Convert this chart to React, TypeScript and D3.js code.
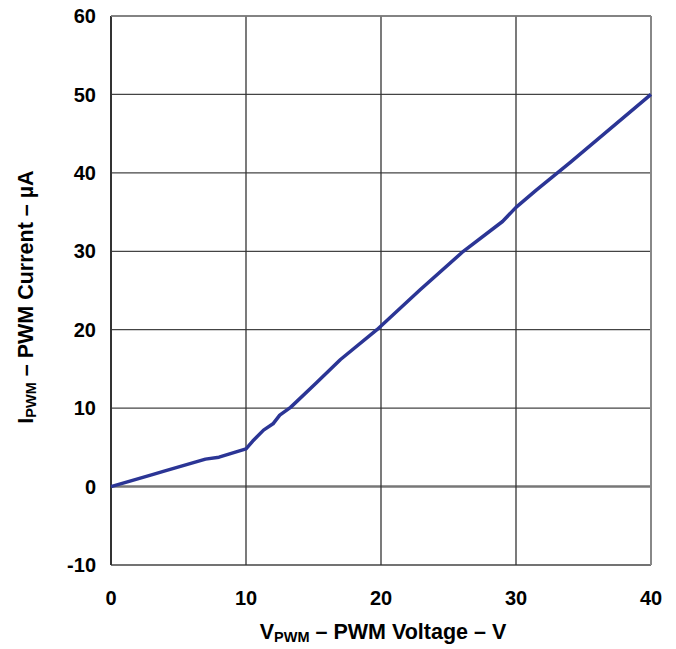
import React from "react";
import * as d3 from "d3";

const voltage = [0, 3, 4, 7, 8, 10, 10.5, 11.3, 12, 12.5, 13.3, 15.2, 17, 19.7, 22.9, 26.1, 29, 30, 31.5, 33, 34, 40];
const current = [0, 1.5, 2, 3.5, 3.75, 4.8, 5.8, 7.2, 8, 9.1, 10.1, 13.2, 16.2, 20, 25.1, 30, 33.8, 35.6, 37.8, 39.9, 41.3, 50];
const xTicks = [0, 10, 20, 30, 40];
const yTicks = [-10, 0, 10, 20, 30, 40, 50, 60];

const W = 676, H = 649;
const left = 111, right = 651, top = 16, bottom = 565;
const font = "'Liberation Sans', Arial, Helvetica, sans-serif";

export default function App() {
  const x = d3.scaleLinear().domain([0, 40]).range([left, right]);
  const y = d3.scaleLinear().domain([-10, 60]).range([bottom, top]);
  const pts = voltage.map((v, i) => [v, current[i]] as [number, number]);
  const line = d3.line<[number, number]>().x(d => x(d[0])).y(d => y(d[1]));

  return (
    <svg width={W} height={H} style={{ position: "absolute", left: 0, top: 0, background: "#fff" }}>
      {yTicks.map(t => (
        <line key={"h" + t} x1={left} x2={right} y1={y(t)} y2={y(t)}
          stroke={t === 0 ? "#777" : "#444"} strokeWidth={t === 0 ? 2.5 : 1.3} />
      ))}
      {xTicks.map(t => (
        <line key={"v" + t} x1={x(t)} x2={x(t)} y1={top} y2={bottom}
          stroke={t === 40 ? "#888" : "#333"} strokeWidth={t === 0 ? 2 : t === 40 ? 2 : 1.3} />
      ))}
      <line x1={left} x2={right} y1={top} y2={top} stroke="#888" strokeWidth={1.5} />
      <path d={line(pts) || ""} fill="none" stroke="#2b3595" strokeWidth={3.5} strokeLinejoin="round" />
      {yTicks.map(t => (
        <text key={"yl" + t} x={96} y={y(t)} dy="0.36em" textAnchor="end"
          fontFamily={font} fontWeight="bold" fontSize={20} fill="#000">{t}</text>
      ))}
      {xTicks.map(t => (
        <text key={"xl" + t} x={x(t)} y={605} textAnchor="middle"
          fontFamily={font} fontWeight="bold" fontSize={20} fill="#000">{t}</text>
      ))}
      <text x={383} y={639} textAnchor="middle" fontFamily={font} fontWeight="bold" fontSize={21.5} fill="#000">
        V<tspan fontSize={14.5} dy={3}>PWM</tspan><tspan dy={-3}> – PWM Voltage – V</tspan>
      </text>
      <text transform={`translate(33, 297) rotate(-90)`} textAnchor="middle"
        fontFamily={font} fontWeight="bold" fontSize={21.5} fill="#000">
        I<tspan fontSize={14.5} dy={3}>PWM</tspan><tspan dy={-3}> – PWM Current – µA</tspan>
      </text>
    </svg>
  );
}
